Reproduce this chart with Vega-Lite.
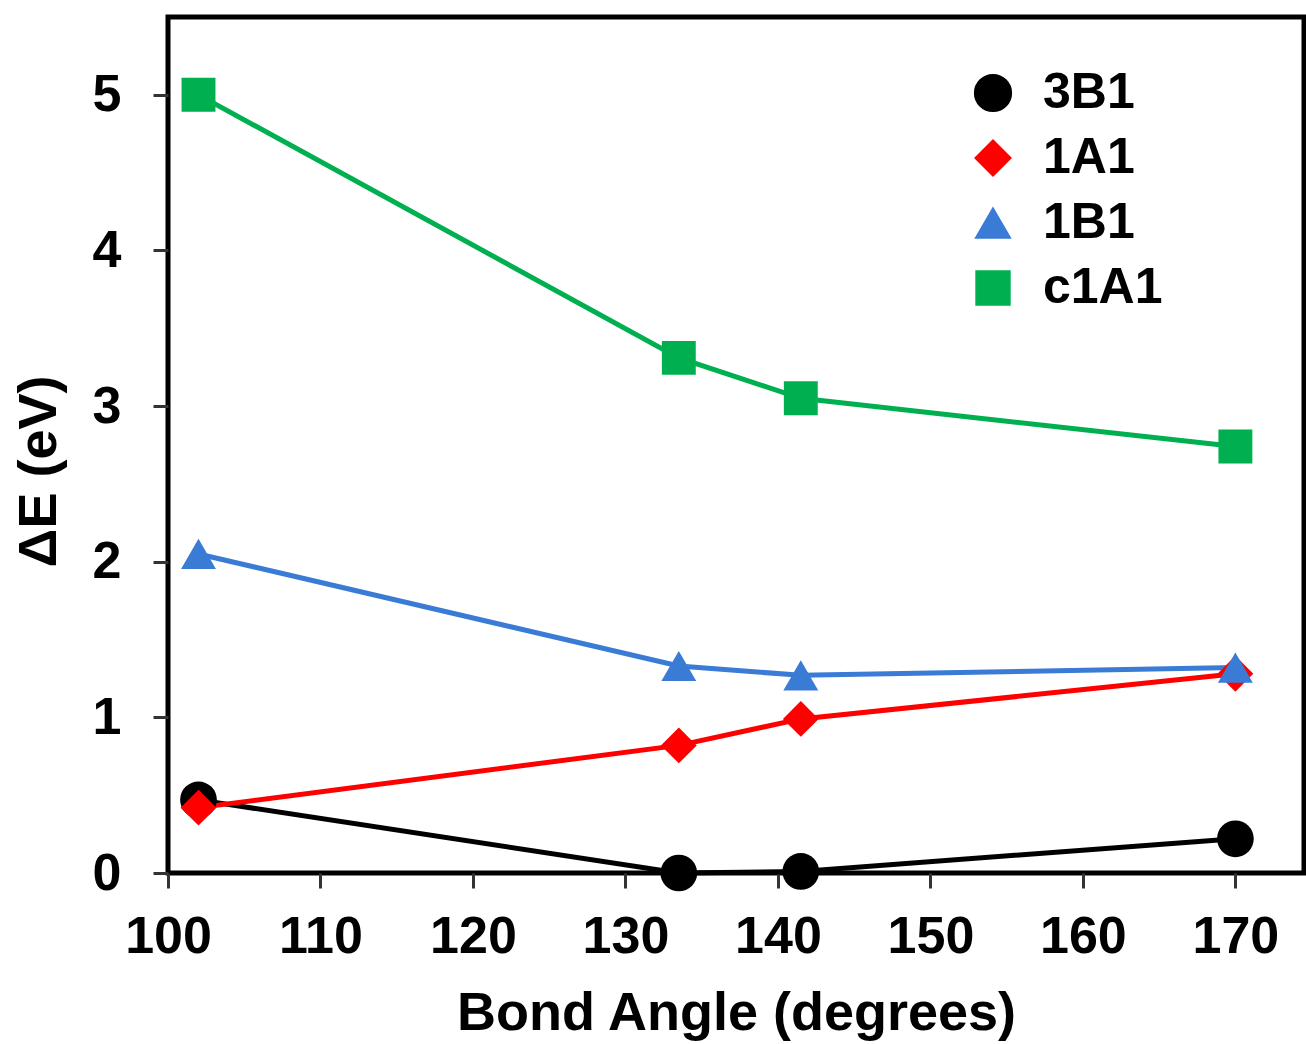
{
  "$schema": "https://vega.github.io/schema/vega-lite/v6.json",
  "width": 1136,
  "height": 856,
  "autosize": {"type": "none"},
  "padding": {"left": 168, "top": 17, "right": 2, "bottom": 171},
  "background": "white",
  "config": {
    "font": "Liberation Sans",
    "view": {"stroke": "black", "strokeWidth": 5},
    "axis": {
      "grid": false,
      "domain": false,
      "tickColor": "#333333",
      "tickWidth": 3,
      "tickSize": 15,
      "labelFont": "Liberation Sans",
      "labelFontWeight": "bold",
      "labelFontSize": 52,
      "labelColor": "black",
      "labelFlush": false,
      "labelOverlap": false,
      "titleFont": "Liberation Sans",
      "titleFontWeight": "bold",
      "titleFontSize": 54,
      "titleColor": "black"
    }
  },
  "data": {
    "values": [
      {"series": "3B1", "angle": 102, "dE": 0.47},
      {"series": "3B1", "angle": 133.5, "dE": 0.0},
      {"series": "3B1", "angle": 141.5, "dE": 0.01},
      {"series": "3B1", "angle": 170, "dE": 0.22},
      {"series": "1A1", "angle": 102, "dE": 0.42},
      {"series": "1A1", "angle": 133.5, "dE": 0.82},
      {"series": "1A1", "angle": 141.5, "dE": 0.99},
      {"series": "1A1", "angle": 170, "dE": 1.28},
      {"series": "1B1", "angle": 102, "dE": 2.05},
      {"series": "1B1", "angle": 133.5, "dE": 1.33},
      {"series": "1B1", "angle": 141.5, "dE": 1.27},
      {"series": "1B1", "angle": 170, "dE": 1.32},
      {"series": "c1A1", "angle": 102, "dE": 5.0},
      {"series": "c1A1", "angle": 133.5, "dE": 3.31},
      {"series": "c1A1", "angle": 141.5, "dE": 3.05},
      {"series": "c1A1", "angle": 170, "dE": 2.74}
    ]
  },
  "encoding": {
    "x": {
      "field": "angle", "type": "quantitative",
      "scale": {"domain": [100, 174.5], "nice": false, "zero": false},
      "axis": {"values": [100, 110, 120, 130, 140, 150, 160, 170], "title": "Bond Angle (degrees)", "labelPadding": 23, "titlePadding": 24}
    },
    "y": {
      "field": "dE", "type": "quantitative",
      "scale": {"domain": [0, 5.5], "nice": false},
      "axis": {"values": [0, 1, 2, 3, 4, 5], "title": "ΔE (eV)", "labelPadding": 32, "titlePadding": 26, "titleY": 454}
    },
    "color": {
      "field": "series", "type": "nominal",
      "sort": ["3B1", "1A1", "1B1", "c1A1"],
      "scale": {"domain": ["3B1", "1A1", "1B1", "c1A1"], "range": ["#000000", "#ff0000", "#3a7bd5", "#00b050"]},
      "legend": {
        "title": null,
        "orient": "none",
        "legendX": 800,
        "legendY": 51,
        "padding": 0,
        "symbolSize": 900,
        "labelOffset": 25,
        "labelFont": "Liberation Sans",
        "labelFontWeight": "bold",
        "labelFontSize": 50,
        "labelColor": "black",
        "rowPadding": 15
      }
    }
  },
  "layer": [
    {
      "mark": {"type": "line", "strokeWidth": 5}
    },
    {
      "mark": {"type": "point", "filled": true, "opacity": 1},
      "encoding": {
        "shape": {
          "field": "series", "type": "nominal",
          "scale": {"domain": ["3B1", "1A1", "1B1", "c1A1"], "range": ["circle", "diamond", "triangle-up", "square"]},
          "legend": null
        },
        "size": {
          "field": "series", "type": "ordinal",
          "scale": {"domain": ["3B1", "1A1", "1B1", "c1A1"], "range": [1350, 1150, 1100, 1080]},
          "legend": null
        }
      }
    }
  ]
}
